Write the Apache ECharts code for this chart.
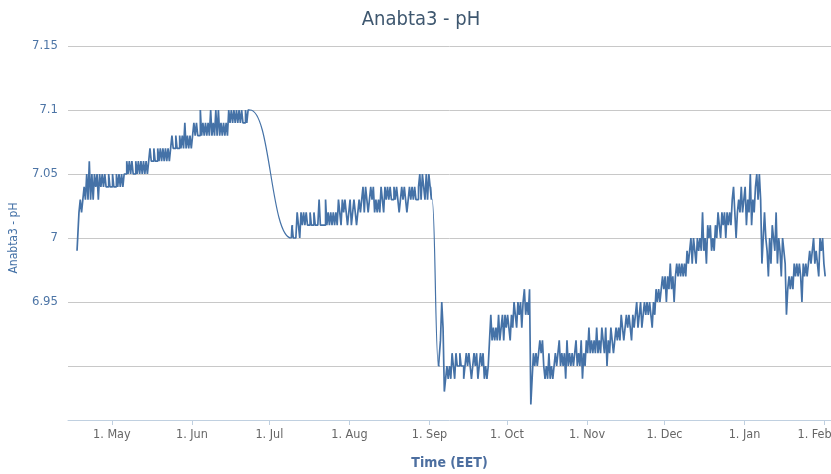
<!DOCTYPE html>
<html><head><meta charset="utf-8">
<script src="https://cdn.jsdelivr.net/npm/echarts@6/dist/echarts.min.js"></script>
<style>html,body{margin:0;padding:0;background:#fff}#c{width:831px;height:474px}</style>
</head><body><div id="c"></div>
<script>
const FONT = '"Liberation Sans Narrow","DejaVu Sans Condensed","Open Sans",sans-serif';
const chartTitle = 'Anabta3 - pH';
const yAxisName = 'Anabta3 - pH';
const xAxisName = 'Time (EET)';
// Each segment: start time, then one reading every 12 hours
const segmentStarts = ['2019-04-17T12:00:00Z', '2019-07-09T12:00:00Z', '2019-09-04T12:00:00Z'];
const stepHours = 12;
const segA = [6.99,7.00,7.02,7.03,7.02,7.03,7.04,7.03,7.05,7.03,7.06,7.03,7.05,7.03,7.05,7.04,7.05,7.03,7.05,7.04,
7.05,7.04,7.05,7.04,7.04,7.05,7.04,7.04,7.05,7.04,7.04,7.05,7.04,7.05,7.04,7.05,7.04,7.05,7.05,7.06,
7.05,7.06,7.05,7.06,7.05,7.05,7.06,7.05,7.06,7.05,7.06,7.05,7.06,7.05,7.06,7.05,7.06,7.07,7.06,7.06,
7.07,7.06,7.06,7.07,7.06,7.07,7.06,7.07,7.06,7.07,7.06,7.07,7.06,7.07,7.08,7.07,7.07,7.08,7.07,7.07,
7.08,7.07,7.08,7.07,7.09,7.07,7.08,7.07,7.08,7.07,7.08,7.09,7.08,7.09,7.08,7.08,7.10,7.08,7.09,7.08,
7.09,7.08,7.09,7.08,7.10,7.08,7.09,7.08,7.10,7.08,7.10,7.08,7.09,7.08,7.09,7.08,7.09,7.08,7.10,7.09,
7.10,7.09,7.10,7.09,7.10,7.09,7.10,7.09,7.10,7.09,7.09,7.10,7.09,7.10,7.10];
const segB = [7.00,7.01,7.00,7.00,7.00,7.02,7.01,7.00,7.02,7.01,7.02,7.01,7.02,7.01,7.01,7.02,7.01,7.01,7.02,7.01,
7.01,7.01,7.03,7.01,7.01,7.01,7.01,7.03,7.01,7.02,7.01,7.02,7.01,7.02,7.01,7.02,7.01,7.03,7.02,7.01,
7.03,7.02,7.03,7.02,7.01,7.02,7.03,7.01,7.02,7.03,7.02,7.01,7.02,7.03,7.02,7.03,7.04,7.02,7.04,7.03,
7.02,7.03,7.04,7.03,7.04,7.02,7.03,7.02,7.03,7.02,7.04,7.03,7.02,7.04,7.03,7.04,7.03,7.04,7.03,7.03,
7.04,7.03,7.04,7.03,7.02,7.03,7.04,7.03,7.04,7.03,7.02,7.03,7.04,7.03,7.04,7.03,7.04,7.03,7.03,7.04,
7.05,7.03,7.05,7.04,7.03,7.05,7.03,7.05,7.04,7.03];
const segC = [6.90,6.90,6.92,6.95,6.93,6.88,6.89,6.90,6.89,6.90,6.89,6.91,6.90,6.89,6.91,6.90,6.90,6.91,6.90,6.90,
6.89,6.90,6.91,6.90,6.91,6.90,6.89,6.90,6.91,6.90,6.91,6.89,6.90,6.91,6.90,6.91,6.89,6.90,6.89,6.90,
6.92,6.94,6.92,6.93,6.92,6.93,6.92,6.94,6.92,6.93,6.94,6.92,6.94,6.93,6.94,6.93,6.92,6.94,6.93,6.95,
6.94,6.93,6.95,6.94,6.95,6.93,6.95,6.96,6.94,6.95,6.94,6.96,6.87,6.89,6.91,6.90,6.91,6.90,6.91,6.92,
6.91,6.92,6.90,6.89,6.90,6.89,6.91,6.89,6.90,6.89,6.90,6.91,6.90,6.91,6.92,6.90,6.91,6.90,6.91,6.89,
6.92,6.90,6.91,6.90,6.91,6.90,6.91,6.92,6.90,6.91,6.90,6.92,6.89,6.91,6.90,6.92,6.91,6.93,6.91,6.92,
6.91,6.92,6.91,6.93,6.91,6.92,6.91,6.93,6.92,6.91,6.93,6.90,6.92,6.91,6.93,6.92,6.91,6.92,6.93,6.92,
6.93,6.92,6.94,6.93,6.92,6.93,6.94,6.93,6.94,6.93,6.92,6.94,6.93,6.94,6.95,6.93,6.94,6.95,6.93,6.94,
6.95,6.94,6.95,6.94,6.95,6.94,6.93,6.95,6.94,6.96,6.95,6.96,6.95,6.96,6.97,6.96,6.97,6.95,6.97,6.96,
6.98,6.96,6.97,6.95,6.97,6.98,6.97,6.98,6.97,6.98,6.97,6.98,6.97,6.99,6.98,6.99,7.00,6.98,7.00,6.99,
6.98,7.00,6.99,7.00,6.99,7.02,6.99,7.00,6.98,7.01,7.00,7.01,6.99,7.00,6.99,7.01,7.00,7.02,7.01,7.00,
7.02,7.01,7.02,7.00,7.02,7.01,7.02,7.01,7.03,7.04,7.02,7.00,7.02,7.03,7.02,7.04,7.02,7.03,7.04,7.01,
7.03,7.02,7.05,7.01,7.03,7.02,7.04,7.05,7.03,7.05,7.03,6.98,7.00,7.02,7.00,6.99,6.97,7.00,6.98,7.01,
7.00,6.99,7.02,6.98,7.00,6.99,6.97,7.00,6.99,6.98,6.94,6.96,6.97,6.96,6.97,6.96,6.98,6.97,6.98,6.97,
6.98,6.97,6.95,6.98,6.97,6.98,6.97,6.98,6.99,6.98,6.99,7.00,6.98,6.99,6.98,6.97,7.00,6.99,7.00,6.98,
6.97];
const segments = [segA, segB, segC];
const monthTicks = ['2019-05-01','2019-06-01','2019-07-01','2019-08-01','2019-09-01','2019-10-01','2019-11-01','2019-12-01','2020-01-01','2020-02-01'];
const monthLabels = ['1. May','1. Jun','1. Jul','1. Aug','1. Sep','1. Oct','1. Nov','1. Dec','1. Jan','1. Feb'];
const xRange = ['2019-04-14T00:00:00Z', '2020-02-03T12:00:00Z'];
const yLabelValues = ['7.15','7.1','7.05','7','6.95'];

// dense readings, broken between recording segments
const segPoints = segments.map((seg, s) => {
  const t0 = Date.parse(segmentStarts[s]);
  return seg.map((v, i) => [t0 + i * stepHours * 3600000, v]);
});
const dense = [];
segPoints.forEach((pts, s) => { if (s > 0) dense.push(null); pts.forEach(p => dense.push(p)); });
// spline joins across the recording gaps, using the readings on each side
const joins = [];
for (let s = 0; s < segPoints.length - 1; s++) {
  const a = segPoints[s], b = segPoints[s + 1];
  if (s > 0) joins.push(null);
  joins.push(a[a.length - 2], a[a.length - 1], b[0], b[1]);
}
const tickTimes = monthTicks.map(d => Date.parse(d + 'T00:00:00Z'));

const lineColor = '#4572A7';
const chart = echarts.init(document.getElementById('c'), null, {renderer: 'canvas'});
chart.setOption({
  animation: false,
  backgroundColor: '#fff',
  textStyle: {fontFamily: FONT},
  title: {
    text: chartTitle, left: 416, top: 5, textAlign: 'center',
    textStyle: {fontFamily: FONT, fontSize: 20, fontWeight: 'normal', color: '#3E576F'}
  },
  grid: {left: 68, right: 0, top: 46, bottom: 44, containLabel: false, outerBoundsMode: 'none'},
  xAxis: {
    type: 'value',
    min: Date.parse(xRange[0]), max: Date.parse(xRange[1]),
    offset: -10,
    name: xAxisName, nameLocation: 'middle', nameGap: 36,
    nameTextStyle: {fontFamily: FONT, fontSize: 14, fontWeight: 'bold', color: '#4d6fa0'},
    axisLine: {show: true, lineStyle: {color: '#C0D0E0', width: 1}},
    axisTick: {show: true, customValues: tickTimes, length: 5, lineStyle: {color: '#C0D0E0'}},
    axisLabel: {
      customValues: tickTimes, margin: 8, color: '#666', fontSize: 12.5, fontFamily: FONT,
      formatter: v => {
        const i = tickTimes.indexOf(v);
        if (i < 0) return '';
        return i === monthLabels.length - 1 ? '{edge|' + monthLabels[i] + '}' : monthLabels[i];
      },
      rich: {edge: {color: '#666', fontSize: 12.5, fontFamily: FONT, padding: [0, 20, 0, 0]}}
    },
    splitLine: {show: false}
  },
  yAxis: {
    type: 'value', min: 6.85, max: 7.15, interval: 0.05,
    name: yAxisName, nameLocation: 'middle', nameGap: 48, nameRotate: 90,
    nameTextStyle: {fontFamily: FONT, fontSize: 12, color: lineColor},
    axisLine: {show: false}, axisTick: {show: false},
    axisLabel: {
      margin: 10, color: '#4d75a6', fontSize: 13, fontFamily: FONT,
      formatter: v => { const s = String(Math.round(v * 100) / 100); return yLabelValues.indexOf(s) >= 0 ? s : ''; }
    },
    splitLine: {show: true, lineStyle: {color: ['rgba(0,0,0,0)','#C8C8C8','#C8C8C8','#C8C8C8','#C8C8C8','#C8C8C8','#C8C8C8'], width: 1}}
  },
  series: [{
    type: 'line', data: dense, showSymbol: false, connectNulls: false, step: 'middle',
    lineStyle: {color: lineColor, width: 1.7}, itemStyle: {color: lineColor}
  }, {
    type: 'line', data: joins, showSymbol: false, connectNulls: false, smooth: 0.5, smoothMonotone: 'x',
    lineStyle: {color: lineColor, width: 1.2}, itemStyle: {color: lineColor}
  }]
});
</script></body></html>
